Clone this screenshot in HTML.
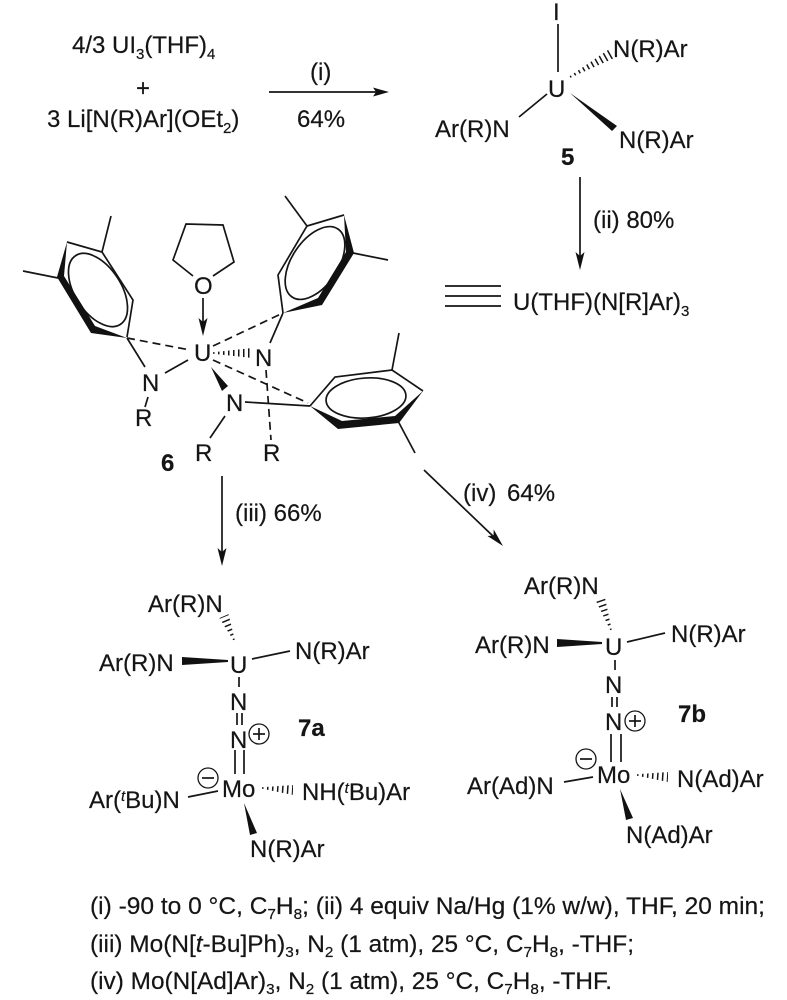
<!DOCTYPE html>
<html><head><meta charset="utf-8"><style>
html,body{margin:0;padding:0;background:#fff}
svg{display:block;filter:blur(.3px)}
text{font-family:"Liberation Sans",sans-serif;font-size:24px;fill:#151515;stroke:#151515;stroke-width:.2}
.b{font-weight:bold}
.c{font-size:24px}
.s{font-size:15px}
.l line,.l polyline,.l polygon.o,.l ellipse{stroke:#151515;stroke-width:1.7;fill:none}
.f{fill:#111;stroke:none}
.d{stroke-dasharray:8 5}
.l line.h{stroke-dasharray:1.5 3.5;stroke-width:16}
</style></head><body>
<svg width="787" height="1000" viewBox="0 0 787 1000" xmlns="http://www.w3.org/2000/svg">
<defs>
<clipPath id="h1"><polygon points="570.4,77.7 569.6,76.3 608.5,49.6 613.5,58.4"/></clipPath>
<clipPath id="h2"><polygon points="213,352.2 213,353.8 252,358 252,348"/></clipPath>
<clipPath id="h3"><polygon points="234.7,639.7 233.3,640.3 219.4,618 228.6,614"/></clipPath>
<clipPath id="h4"><polygon points="262,787.2 262,788.8 293,795 293,785"/></clipPath>
<clipPath id="h5"><polygon points="611.7,629.7 610.3,630.3 595.3,599.6 604.7,596.4"/></clipPath>
<clipPath id="h6"><polygon points="637,774.2 637,775.8 668,782 668,772"/></clipPath>
</defs>
<rect width="787" height="1000" fill="#fff"/>
<g class="l">
<!-- top arrow -->
<line x1="269" y1="92" x2="378" y2="92"/><polygon class="f" points="389,92 373,87.5 376,92 373,96.5"/>
<!-- compound 5 -->
<line x1="558" y1="24" x2="558" y2="72"/>
<line class="h" clip-path="url(#h1)" x1="570" y1="77" x2="611" y2="54"/>
<polygon class="f" points="570,93 617,126 612,131"/>
<line x1="547" y1="94" x2="519" y2="117"/>
<line x1="580" y1="177" x2="580" y2="258"/><polygon class="f" points="580,270 575.5,252 580,256 584.5,252"/>
<line x1="445" y1="286" x2="501" y2="286"/><line x1="445" y1="296" x2="501" y2="296"/><line x1="445" y1="306" x2="501" y2="306"/>
<!-- left ring -->
<polyline points="127,337 133,300 102,252 67,242"/>
<ellipse cx="98" cy="290" rx="41" ry="23" transform="rotate(57 98 290)"/>
<line x1="102" y1="252" x2="111" y2="216"/><line x1="58" y1="278" x2="23" y2="271"/>
<polygon class="f" points="67,242 57,277 91,333 127,338 95,326 64,276"/>
<line class="d" x1="127" y1="338" x2="190" y2="350"/>
<line x1="127" y1="338" x2="145" y2="367"/>
<line x1="165" y1="373" x2="188" y2="360"/>
<line x1="148" y1="397" x2="145" y2="407"/>
<!-- THF -->
<polyline points="193,276 173,260 186,224 223,225 234,262 213,276"/>
<line x1="203" y1="298" x2="203" y2="325"/><polygon class="f" points="203,336 198.5,318 203,322 207.5,318"/>
<!-- right ring -->
<polyline points="283,313 278,275 307,226 344,215"/>
<ellipse cx="315" cy="263" rx="41" ry="23" transform="rotate(-56 315 263)"/>
<line x1="307" y1="226" x2="285" y2="196"/><line x1="353" y1="253" x2="388" y2="260"/>
<polygon class="f" points="344,215 354,253 322,305 283,313 318,298 346,252"/>
<line class="d" x1="213" y1="346" x2="283" y2="313"/>
<line x1="283" y1="313" x2="270" y2="343"/>
<line class="h" clip-path="url(#h2)" x1="213" y1="353" x2="252" y2="353"/>
<line class="d" x1="266" y1="370" x2="271" y2="440"/>
<polygon class="f" points="211,367 228,386 222,391"/>
<line x1="225" y1="416" x2="210" y2="438"/>
<line x1="245" y1="402" x2="310" y2="406"/>
<line class="d" x1="213" y1="360" x2="308" y2="403"/>
<!-- third ring -->
<polyline points="310,406 335,377 392,370 423,391"/>
<ellipse cx="366" cy="398" rx="40" ry="20" transform="rotate(-4 366 398)"/>
<line x1="392" y1="370" x2="399" y2="333"/><line x1="398" y1="421" x2="415" y2="453"/>
<polygon class="f" points="310,406 338,429 399,423 423,391 395,416 342,421"/>
<!-- reaction arrows -->
<line x1="222" y1="476" x2="222" y2="555"/><polygon class="f" points="222,566 217.5,548 222,552 226.5,548"/>
<line x1="424" y1="470" x2="495" y2="538"/><polygon class="f" points="503,546 487.5,536 493.5,535.5 493.7,529.5"/>
<!-- 7a -->
<line class="h" clip-path="url(#h3)" x1="234" y1="640" x2="224" y2="616"/>
<line x1="252" y1="659" x2="290" y2="651"/>
<polygon class="f" points="182,657 182,665 228,662 228,660"/>
<line x1="239" y1="677" x2="239" y2="687"/>
<line x1="237" y1="713" x2="237" y2="725"/><line x1="242" y1="713" x2="242" y2="725"/>
<line x1="235" y1="750" x2="235" y2="774"/><line x1="244" y1="750" x2="244" y2="774"/>
<line x1="188" y1="797" x2="218" y2="791"/>
<line class="h" clip-path="url(#h4)" x1="262" y1="788" x2="293" y2="790"/>
<polygon class="f" points="244,803 257,833 250,835"/>
<ellipse cx="259" cy="734" rx="10" ry="10" style="stroke-width:1.3"/><line x1="253" y1="734" x2="265" y2="734"/><line x1="259" y1="728" x2="259" y2="740"/>
<ellipse cx="208" cy="778" rx="10" ry="10" style="stroke-width:1.3"/><line x1="202" y1="778" x2="214" y2="778"/>
<!-- 7b -->
<line class="h" clip-path="url(#h5)" x1="611" y1="630" x2="600" y2="598"/>
<line x1="627" y1="642" x2="665" y2="633"/>
<polygon class="f" points="557,639 557,647 602,644 602,642"/>
<line x1="615" y1="660" x2="615" y2="670"/>
<line x1="612" y1="697" x2="612" y2="707"/><line x1="617" y1="697" x2="617" y2="707"/>
<line x1="611" y1="734" x2="611" y2="762"/><line x1="621" y1="734" x2="621" y2="762"/>
<line x1="564" y1="782" x2="593" y2="777"/>
<line class="h" clip-path="url(#h6)" x1="637" y1="775" x2="668" y2="777"/>
<polygon class="f" points="620,789 633,818 626,820"/>
<ellipse cx="635" cy="721" rx="10" ry="10" style="stroke-width:1.3"/><line x1="629" y1="721" x2="641" y2="721"/><line x1="635" y1="715" x2="635" y2="727"/>
<ellipse cx="586" cy="759" rx="10" ry="10" style="stroke-width:1.3"/><line x1="580" y1="759" x2="592" y2="759"/>
</g>
<text x="72" y="53">4/3 UI<tspan class="s" dy="6">3</tspan><tspan dy="-6">(THF)</tspan><tspan class="s" dy="6">4</tspan></text>
<text x="136" y="96">+</text>
<text x="47" y="127">3 Li[N(R)Ar](OEt<tspan class="s" dy="6">2</tspan><tspan dy="-6">)</tspan></text>
<text x="310" y="80">(i)</text>
<text x="297" y="127">64%</text>
<text x="553" y="20">I</text>
<text x="613" y="57">N(R)Ar</text>
<text x="548" y="97">U</text>
<text x="435" y="137">Ar(R)N</text>
<text x="619" y="148">N(R)Ar</text>
<text class="b" x="561" y="165">5</text>
<text x="593" y="228">(ii) 80%</text>
<text x="513" y="310">U(THF)(N[R]Ar)<tspan class="s" dy="6">3</tspan></text>
<text x="194" y="294">O</text>
<text x="194" y="361">U</text>
<text x="142" y="391">N</text>
<text x="135" y="426">R</text>
<text x="255" y="366">N</text>
<text x="226" y="411">N</text>
<text x="195" y="461">R</text>
<text x="263" y="461">R</text>
<text class="b" x="161" y="471">6</text>
<text x="235" y="521">(iii) 66%</text>
<text x="463" y="501">(iv)</text>
<text x="507" y="501">64%</text>
<!-- 7a text -->
<text x="148" y="612">Ar(R)N</text>
<text x="295" y="659">N(R)Ar</text>
<text x="99" y="671">Ar(R)N</text>
<text x="230" y="673">U</text>
<text x="230" y="710">N</text>
<text x="230" y="748">N</text>
<text class="b" x="298" y="736">7a</text>
<text x="222" y="797">Mo</text>
<text x="89" y="808">Ar(<tspan class="s" dy="-7" font-style="italic">t</tspan><tspan dy="7">Bu)N</tspan></text>
<text x="302" y="800">NH(<tspan class="s" dy="-7" font-style="italic">t</tspan><tspan dy="7">Bu)Ar</tspan></text>
<text x="250" y="857">N(R)Ar</text>
<!-- 7b text -->
<text x="524" y="594">Ar(R)N</text>
<text x="671" y="642">N(R)Ar</text>
<text x="475" y="653">Ar(R)N</text>
<text x="605" y="655">U</text>
<text x="605" y="693">N</text>
<text x="605" y="730">N</text>
<text class="b" x="678" y="722">7b</text>
<text x="597" y="783">Mo</text>
<text x="467" y="794">Ar(Ad)N</text>
<text x="677" y="787">N(Ad)Ar</text>
<text x="626" y="843">N(Ad)Ar</text>
<!-- caption -->
<text class="c" x="90" y="914" textLength="675" lengthAdjust="spacingAndGlyphs">(i) -90 to 0 °C, C<tspan class="s" dy="5">7</tspan><tspan dy="-5">H</tspan><tspan class="s" dy="5">8</tspan><tspan dy="-5">; (ii) 4 equiv Na/Hg (1% w/w), THF, 20 min;</tspan></text>
<text class="c" x="90" y="952" textLength="544" lengthAdjust="spacingAndGlyphs">(iii) Mo(N[<tspan font-style="italic">t</tspan>-Bu]Ph)<tspan class="s" dy="5">3</tspan><tspan dy="-5">, N</tspan><tspan class="s" dy="5">2</tspan><tspan dy="-5"> (1 atm), 25 °C, C</tspan><tspan class="s" dy="5">7</tspan><tspan dy="-5">H</tspan><tspan class="s" dy="5">8</tspan><tspan dy="-5">, -THF;</tspan></text>
<text class="c" x="90" y="989" textLength="522" lengthAdjust="spacingAndGlyphs">(iv) Mo(N[Ad]Ar)<tspan class="s" dy="5">3</tspan><tspan dy="-5">, N</tspan><tspan class="s" dy="5">2</tspan><tspan dy="-5"> (1 atm), 25 °C, C</tspan><tspan class="s" dy="5">7</tspan><tspan dy="-5">H</tspan><tspan class="s" dy="5">8</tspan><tspan dy="-5">, -THF.</tspan></text>
</svg>
</body></html>
